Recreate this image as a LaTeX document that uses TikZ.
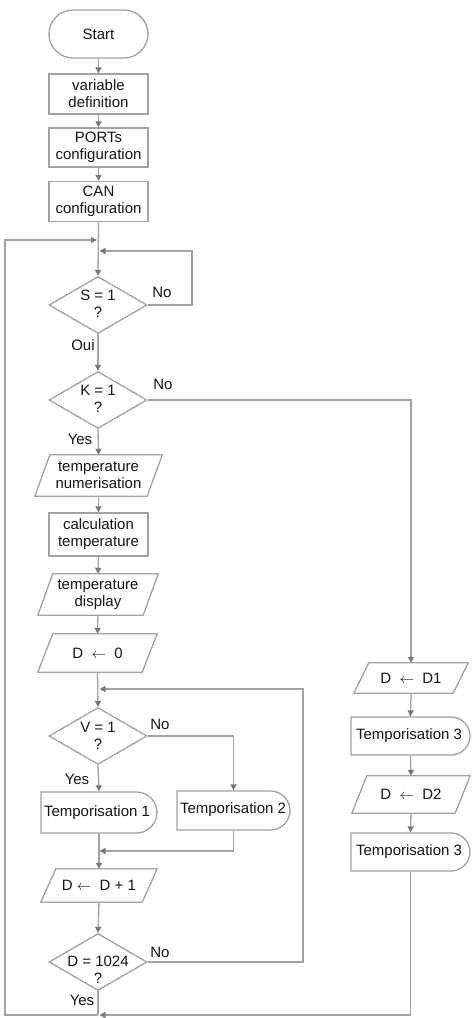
\documentclass[tikz,border=0pt]{standalone}
\usepackage{fontspec}
\setmainfont{Liberation Sans}
\usetikzlibrary{shapes.geometric,shapes.misc,arrows.meta}
\definecolor{ln}{HTML}{A2A2A2}
\definecolor{ah}{HTML}{777777}
\definecolor{tx}{HTML}{151515}
\tikzset{
  txt/.style={text=tx, font=\fontsize{15}{17}\selectfont, align=center, inner sep=0pt},
  shp/.style={draw=ln, line width=1.3pt, inner sep=0pt},
  outl/.style={draw=ln, line width=1.3pt, line join=round},
  rbox/.style={shp, txt, rectangle},
  term/.style={shp, rounded rectangle},
  delay/.style={shp, rounded rectangle, rounded rectangle left arc=none},
  dia/.style={shp, diamond, minimum width=98pt, minimum height=57pt},
  link/.style={draw=ln, line width=1.3pt},
  arr/.style={link, -{Triangle[length=6pt,width=6pt,color=ah]}},
}
\newcommand\pgram[6]{%
  \node[txt, minimum width=#4pt, minimum height=#5pt] (#1) at (#2,#3) {#6};
  \draw[outl] ([xshift=-7.5pt]#1.south west) -- ([xshift=7.5pt]#1.north west)
     -- ([xshift=7.5pt]#1.north east) -- ([xshift=-7.5pt]#1.south east) -- cycle;}
\begin{document}
\begin{tikzpicture}[x=1pt,y=-1pt]
\useasboundingbox (0,0) rectangle (475,1018);
\fill[white] (0,0) rectangle (475,1018);

% main column
\node[term, minimum width=99pt, minimum height=48pt] (start) at (98.5,34) {};
\node[txt] at (start) {Start};
\node[rbox, minimum width=99pt, minimum height=40pt] (vd) at (98.5,94) {variable\\definition};
\node[rbox, minimum width=99pt, minimum height=39pt] (ports) at (98.5,147.5) {PORTs\\configuration};
\node[rbox, minimum width=99pt, minimum height=40pt] (can) at (98.5,201.5) {CAN\\configuration};

\node[dia] (s1) at (98,305) {};
\node[txt] at (98,304) {S = 1\\?};
\node[dia] (k1) at (98,400) {};
\node[txt] at (98,399) {K = 1\\?};

\pgram{tn}{98.5}{475.5}{112}{41}{temperature\\numerisation}
\node[rbox, minimum width=99pt, minimum height=43pt] (ct) at (98.5,534.5) {calculation\\temperature};
\pgram{td}{98}{594.5}{105}{41}{temperature\\display}
\pgram{d0}{97.5}{653}{104}{38}{D \ $\leftarrow$ \ 0}

\node[dia] (v1) at (98,736) {};
\node[txt] at (98,736) {V = 1\\?};
\node[delay, minimum width=116pt, minimum height=41pt] (t1) at (99,812.5) {};
\node[txt] at (97,813) {Temporisation 1};
\node[delay, minimum width=113pt, minimum height=39pt] (t2) at (233.5,810.5) {};
\node[txt] at (233,810) {Temporisation 2};

\pgram{dp}{99}{885.5}{101}{33}{D $\leftarrow$ \ D + 1}
\node[dia] (dk) at (98,962) {};
\node[txt] at (98,970) {D = 1024\\?};

% right column
\pgram{d1}{411}{678}{99}{30}{D \ $\leftarrow$ \ D1}
\node[delay, minimum width=119pt, minimum height=38pt] (t3a) at (410.5,736) {};
\node[txt] at (409,736) {Temporisation 3};
\pgram{d2}{411}{794.5}{103}{37}{D \ $\leftarrow$ \ D2}
\node[delay, minimum width=119pt, minimum height=38pt] (t3b) at (410.5,852) {};
\node[txt] at (409,852) {Temporisation 3};

% junction coordinates
\coordinate (jA) at (97,240);
\coordinate (jS) at (99.5,251);
\coordinate (sR) at (192,251);
\coordinate (jV) at (99.5,689);
\coordinate (vR) at (303,689);
\coordinate (jM) at (99.5,851);
\coordinate (jB) at (98,1015);
\coordinate (jBr) at (99.5,1015);
\coordinate (lB) at (5,1015);
\coordinate (lT) at (5,240);

% connectors
\draw[arr] (start.south) -- (vd.north);
\draw[arr] (vd.south) -- (ports.north);
\draw[arr] (ports.south) -- (can.north);
\draw[arr] (can.south) -- (s1.north);
\draw[arr] (s1.east) -| (sR) -- (jS);
\draw[arr] (s1.south) -- (k1.north);
\draw[arr] (k1.south) -- (tn.north);
\draw[arr] (k1.east) -| (d1.north);
\draw[arr] (tn.south) -- (ct.north);
\draw[arr] (ct.south) -- (td.north);
\draw[arr] (td.south) -- (d0.north);
\draw[arr] (d0.south) -- (v1.north);
\draw[arr] (v1.south) -- (t1.north);
\draw[arr] (v1.east) -| (t2.north);
\draw[arr] (t1.south) -- (dp.north);
\draw[arr] (t2.south) |- (jM);
\draw[arr] (dp.south) -- (dk.north);
\draw[arr] (dk.east) -| (vR) -- (jV);
\draw[link] (dk.south) -- (jB);
\draw[arr] (d1.south) -- (t3a.north);
\draw[arr] (t3a.south) -- (d2.north);
\draw[arr] (d2.south) -- (t3b.north);
\draw[arr] (t3b.south) |- (jBr);
\draw[arr] (jB) -- (lB) -- (lT) -- (jA);

% branch labels
\node[txt] at (162,292) {No};
\node[txt] at (83,345) {Oui};
\node[txt] at (163,384) {No};
\node[txt] at (80,439) {Yes};
\node[txt] at (160,724) {No};
\node[txt] at (77,779) {Yes};
\node[txt] at (160,952) {No};
\node[txt] at (82,1000) {Yes};
\end{tikzpicture}
\end{document}
